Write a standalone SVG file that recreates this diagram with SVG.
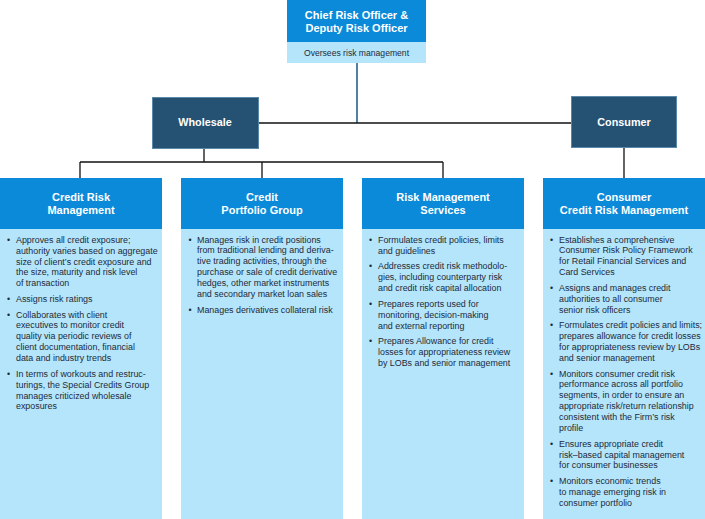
<svg xmlns="http://www.w3.org/2000/svg" width="705" height="519" viewBox="0 0 705 519">
<style>
.hd{fill:#0a8ad9}
.lt{fill:#b5e5fb}
.nv{fill:#255272;stroke:#5a88a8;stroke-width:1}
.tt{font-family:"Liberation Sans",Arial,sans-serif;font-weight:bold;font-size:11px;fill:#ffffff;text-anchor:middle}
.sub{font-family:"Liberation Sans",Arial,sans-serif;font-size:8.6px;fill:#1c2b3a;text-anchor:middle}
.bd{font-family:"Liberation Sans",Arial,sans-serif;font-size:8.9px;fill:#1c2b3a}
.cn{fill:none;stroke:#111111;stroke-width:1.3}
.cs{fill:none;stroke:#4f82a4;stroke-width:2}
</style>
<rect width="705" height="519" fill="#ffffff"/>
<g id="connectors">
<line class="cs" x1="357" y1="63" x2="357" y2="123"/>
<line class="cn" x1="258" y1="123" x2="571" y2="123"/>
<line class="cn" x1="204" y1="149" x2="204" y2="162"/>
<line class="cn" x1="80" y1="162" x2="443" y2="162"/>
<line class="cn" x1="80" y1="162" x2="80" y2="178"/>
<line class="cn" x1="262" y1="162" x2="262" y2="178"/>
<line class="cn" x1="443" y1="162" x2="443" y2="178"/>
<line class="cn" x1="624" y1="148" x2="624" y2="178"/>
</g>
<g id="cro">
<rect class="hd" x="287" y="0" width="139" height="42"/>
<rect class="lt" x="287" y="42" width="139" height="21"/>
<text class="tt" x="356.5" y="19">Chief Risk Officer &amp;</text>
<text class="tt" x="356.5" y="32.3">Deputy Risk Officer</text>
<text class="sub" x="356.5" y="55.5">Oversees risk management</text>
</g>
<g id="wholesale">
<rect class="nv" x="152.5" y="97.5" width="106" height="51"/>
<text class="tt" x="205" y="126.3" style="font-size:10.8px">Wholesale</text>
</g>
<g id="consumer">
<rect class="nv" x="571.5" y="96.5" width="105" height="51"/>
<text class="tt" x="624" y="125.8" style="font-size:10.8px">Consumer</text>
</g>
<g id="credit-risk-management">
<rect class="hd" x="0" y="178" width="162" height="51"/>
<rect class="lt" x="0" y="229" width="162" height="290"/>
<text class="tt" x="81" y="200.5">Credit Risk</text>
<text class="tt" x="81" y="213.5">Management</text>
<g class="bd">
<text x="7" y="242.7">•</text>
<text x="16" y="242.7">Approves all credit exposure;</text>
<text x="16" y="253.6">authority varies based on aggregate</text>
<text x="16" y="264.5">size of client’s credit exposure and</text>
<text x="16" y="275.4">the size, maturity and risk level</text>
<text x="16" y="286.3">of transaction</text>
<text x="7" y="301.9">•</text>
<text x="16" y="301.9">Assigns risk ratings</text>
<text x="7" y="317.5">•</text>
<text x="16" y="317.5">Collaborates with client</text>
<text x="16" y="328.4">executives to monitor credit</text>
<text x="16" y="339.3">quality via periodic reviews of</text>
<text x="16" y="350.2">client documentation, financial</text>
<text x="16" y="361.1">data and industry trends</text>
<text x="7" y="376.7">•</text>
<text x="16" y="376.7">In terms of workouts and restruc-</text>
<text x="16" y="387.6">turings, the Special Credits Group</text>
<text x="16" y="398.5">manages criticized wholesale</text>
<text x="16" y="409.4">exposures</text>
</g>
</g>
<g id="credit-portfolio-group">
<rect class="hd" x="181" y="178" width="162" height="51"/>
<rect class="lt" x="181" y="229" width="162" height="290"/>
<text class="tt" x="262" y="200.5">Credit</text>
<text class="tt" x="262" y="213.5">Portfolio Group</text>
<g class="bd">
<text x="188.5" y="242.5">•</text>
<text x="197" y="242.5">Manages risk in credit positions</text>
<text x="197" y="253.4">from traditional lending and deriva-</text>
<text x="197" y="264.3">tive trading activities, through the</text>
<text x="197" y="275.2">purchase or sale of credit derivative</text>
<text x="197" y="286.1">hedges, other market instruments</text>
<text x="197" y="297">and secondary market loan sales</text>
<text x="188.5" y="312.9">•</text>
<text x="197" y="312.9">Manages derivatives collateral risk</text>
</g>
</g>
<g id="risk-management-services">
<rect class="hd" x="362" y="178" width="162" height="51"/>
<rect class="lt" x="362" y="229" width="162" height="290"/>
<text class="tt" x="443" y="200.5">Risk Management</text>
<text class="tt" x="443" y="213.5">Services</text>
<g class="bd">
<text x="369" y="243.2">•</text>
<text x="378" y="243.2">Formulates credit policies, limits</text>
<text x="378" y="254.1">and guidelines</text>
<text x="369" y="269.3">•</text>
<text x="378" y="269.3">Addresses credit risk methodolo-</text>
<text x="378" y="280.2">gies, including counterparty risk</text>
<text x="378" y="291.1">and credit risk capital allocation</text>
<text x="369" y="306.7">•</text>
<text x="378" y="306.7">Prepares reports used for</text>
<text x="378" y="317.6">monitoring, decision-making</text>
<text x="378" y="328.7">and external reporting</text>
<text x="369" y="344.1">•</text>
<text x="378" y="344.1">Prepares Allowance for credit</text>
<text x="378" y="355.1">losses for appropriateness review</text>
<text x="378" y="366.3">by LOBs and senior management</text>
</g>
</g>
<g id="consumer-credit-risk-management">
<rect class="hd" x="543" y="178" width="162" height="51"/>
<rect class="lt" x="543" y="229" width="162" height="290"/>
<text class="tt" x="624" y="200.5">Consumer</text>
<text class="tt" x="624" y="213.5">Credit Risk Management</text>
<g class="bd">
<text x="550" y="242.5">•</text>
<text x="559" y="242.5">Establishes a comprehensive</text>
<text x="559" y="253.4">Consumer Risk Policy Framework</text>
<text x="559" y="264.3">for Retail Financial Services and</text>
<text x="559" y="275.2">Card Services</text>
<text x="550" y="290.8">•</text>
<text x="559" y="290.8">Assigns and manages credit</text>
<text x="559" y="301.7">authorities to all consumer</text>
<text x="559" y="312.6">senior risk officers</text>
<text x="550" y="328.2">•</text>
<text x="559" y="328.2">Formulates credit policies and limits;</text>
<text x="559" y="339.1">prepares allowance for credit losses</text>
<text x="559" y="350">for appropriateness review by LOBs</text>
<text x="559" y="360.9">and senior management</text>
<text x="550" y="376.5">•</text>
<text x="559" y="376.5">Monitors consumer credit risk</text>
<text x="559" y="387.4">performance across all portfolio</text>
<text x="559" y="398.3">segments, in order to ensure an</text>
<text x="559" y="409.2">appropriate risk/return relationship</text>
<text x="559" y="420.1">consistent with the Firm’s risk</text>
<text x="559" y="431">profile</text>
<text x="550" y="446.6">•</text>
<text x="559" y="446.6">Ensures appropriate credit</text>
<text x="559" y="457.5">risk–based capital management</text>
<text x="559" y="468.4">for consumer businesses</text>
<text x="550" y="484">•</text>
<text x="559" y="484">Monitors economic trends</text>
<text x="559" y="494.9">to manage emerging risk in</text>
<text x="559" y="505.8">consumer portfolio</text>
</g>
</g>
</svg>
